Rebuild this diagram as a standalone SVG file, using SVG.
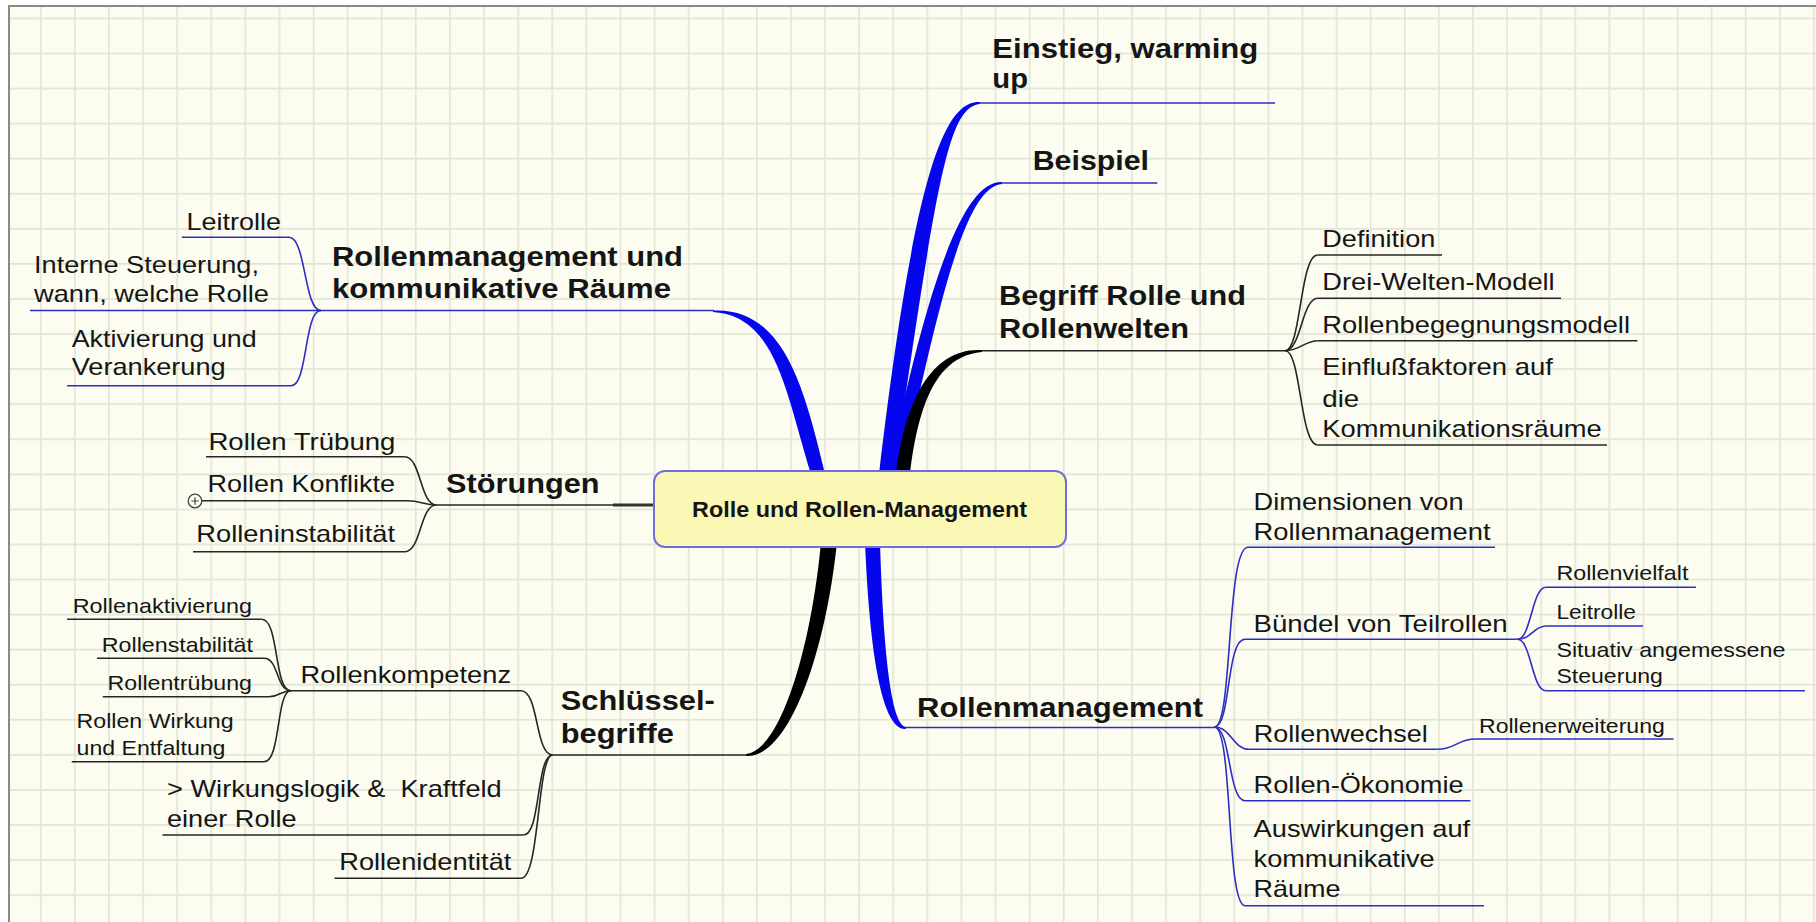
<svg xmlns="http://www.w3.org/2000/svg" width="1816" height="922" viewBox="0 0 1816 922">
<defs>
<pattern id="grid" patternUnits="userSpaceOnUse" x="39.9" y="17.5" width="34.1" height="35.07">
<path d="M0.8,0 V35.07 M0,0.8 H34.1" stroke="#e1e5d5" stroke-width="1.6" fill="none"/>
</pattern>
<style>
.t{font-family:"Liberation Sans",Arial,sans-serif;fill:#151515}
.r{font-size:24px}
.b{font-size:27px;font-weight:bold}
.s{font-size:21px}
.c{font-size:21.5px;font-weight:bold}
.lb{fill:none;stroke:#2d2dc4;stroke-width:1.6}
.lk{fill:none;stroke:#262626;stroke-width:1.6}
.fb{fill:#0606ee}
.fk{fill:#000}
</style>
</defs>
<rect x="0" y="0" width="1816" height="922" fill="#ffffff"/>
<rect x="9" y="6" width="1820" height="930" fill="#fcfdf0" stroke="#8a8a86" stroke-width="2"/>
<rect x="10" y="7" width="1810" height="920" fill="url(#grid)"/>

<g id="connectors">
<!-- thick main branches -->
<path class="fb" d="M713,310.5 C783,307 804,386 825,474 L811,474 C786,394 777,316 713,312 Z"/>
<path class="fb" d="M980,102 C943,100 914,180 879,474 L894,474 C937,180 948,107 980,104 Z"/>
<path class="fb" d="M1002,182 C964,180 928,280 888,474 L902,474 C943,280 968,187 1002,184 Z"/>
<path class="fk" d="M982,350 C932,347 905,400 896,474 L910,474 C919,400 938,356 982,352 Z"/>
<path class="fk" d="M746,754 C780,751 811,650 821,542 L837,542 C826,650 790,758 746,756 Z"/>
<path class="fb" d="M906,729 C880,731 869,640 865,542 L880,542 C883,640 890,725 906,727 Z"/>
<line x1="613" y1="505" x2="656" y2="505" stroke="#333" stroke-width="3"/>
<!-- left top cluster -->
<path class="lb" d="M289,237.3 C306,237.3 304,310.5 320.8,310.5"/>
<path class="lb" d="M291,385.7 C308,385.7 304,310.5 320.8,310.5"/>
<!-- Störungen cluster -->
<path class="lk" d="M404.7,456.7 C421,456.7 420,505 436.3,505"/>
<path class="lk" d="M407,500.7 C421,500.7 424,505 436.3,505"/>
<path class="lk" d="M405,551.7 C421,551.7 420,505 436.3,505"/>
<!-- Rollenkompetenz cluster -->
<path class="lk" d="M261.8,619.3 C279,619.3 274,690.7 290.8,690.7"/>
<path class="lk" d="M264,658.3 C279,658.3 276,690.7 290.8,690.7"/>
<path class="lk" d="M269,696.7 C280,696.7 281,690.7 290.8,690.7"/>
<path class="lk" d="M264,761.7 C281,761.7 276,690.7 290.8,690.7"/>
<!-- Schlüsselbegriffe cluster -->
<path class="lk" d="M521,690.7 C539,690.7 535,755 552.6,755"/>
<path class="lk" d="M523.5,835 C541,835 536,755 552.6,755"/>
<path class="lk" d="M521,878.3 C540,878.3 537,755 552.6,755"/>
<!-- Begriff cluster -->
<path class="lk" d="M1285.3,350.7 C1301,350.7 1300,255 1317.6,255"/>
<path class="lk" d="M1285.3,350.7 C1301,350.7 1302,298.3 1317.6,298.3"/>
<path class="lk" d="M1285.3,350.7 C1300,350.7 1305,340.7 1317.6,340.7"/>
<path class="lk" d="M1285.3,350.7 C1301,350.7 1300,445 1317.6,445"/>
<!-- Rollenmanagement cluster -->
<path class="lb" d="M1214.5,727 C1233,727 1226,547.3 1248,547.3"/>
<path class="lb" d="M1214.5,727 C1231,727 1226,639.3 1245,639.3"/>
<path class="lb" d="M1214.5,727 C1231,727 1233,749.3 1249,749.3"/>
<path class="lb" d="M1214.5,727 C1231,727 1228,800.7 1245,800.7"/>
<path class="lb" d="M1214.5,727 C1233,727 1226,905.7 1245,905.7"/>
<path class="lb" d="M1517.6,639.3 C1531,639.3 1532,587.3 1545.8,587.3"/>
<path class="lb" d="M1517.6,639.3 C1531,639.3 1534,626 1545.8,626"/>
<path class="lb" d="M1517.6,639.3 C1531,639.3 1532,690.7 1545.8,690.7"/>
<path class="lb" d="M1437.7,749.3 C1455,749.3 1458,739 1475,739"/>
</g>

<g id="central">
<rect x="654" y="471" width="412" height="76" rx="11" fill="#fbf8b6" stroke="#6f6fdc" stroke-width="2"/>
<text class="t c" x="692" y="517" textLength="335" lengthAdjust="spacingAndGlyphs">Rolle und Rollen-Management</text>
</g>

<g id="n-rollenmanagement-raeume">
<text class="t b" x="332" y="266" textLength="351" lengthAdjust="spacingAndGlyphs">Rollenmanagement und</text>
<text class="t b" x="332" y="298" textLength="339" lengthAdjust="spacingAndGlyphs">kommunikative Räume</text>
<line class="lb" x1="30" y1="310.5" x2="714" y2="310.5"/>
</g>
<g id="n-leitrolle-l">
<text class="t r" x="186.6" y="230" textLength="94.5" lengthAdjust="spacingAndGlyphs">Leitrolle</text>
<line class="lb" x1="181.8" y1="237.3" x2="289" y2="237.3"/>
</g>
<g id="n-interne">
<text class="t r" x="34" y="273" textLength="225" lengthAdjust="spacingAndGlyphs">Interne Steuerung,</text>
<text class="t r" x="34" y="302" textLength="235" lengthAdjust="spacingAndGlyphs">wann, welche Rolle</text>
</g>
<g id="n-aktivierung">
<text class="t r" x="71.7" y="347" textLength="185" lengthAdjust="spacingAndGlyphs">Aktivierung und</text>
<text class="t r" x="71.7" y="375" textLength="154" lengthAdjust="spacingAndGlyphs">Verankerung</text>
<line class="lb" x1="67" y1="385.7" x2="291" y2="385.7"/>
</g>

<g id="n-stoerungen">
<text class="t b" x="446" y="492.7" textLength="153.6" lengthAdjust="spacingAndGlyphs">Störungen</text>
<line class="lk" x1="436.3" y1="505" x2="614" y2="505"/>
</g>
<g id="n-truebung">
<text class="t r" x="208.4" y="450" textLength="187" lengthAdjust="spacingAndGlyphs">Rollen Trübung</text>
<line class="lk" x1="206" y1="456.7" x2="404.7" y2="456.7"/>
</g>
<g id="n-konflikte">
<text class="t r" x="207.5" y="491.7" textLength="187.5" lengthAdjust="spacingAndGlyphs">Rollen Konflikte</text>
<line class="lk" x1="201.5" y1="500.7" x2="407" y2="500.7"/>
<circle cx="195" cy="501" r="6.8" fill="#fcfdf0" stroke="#444" stroke-width="1.3"/>
<path d="M191.3,501 H198.7 M195,497.3 V504.7" stroke="#444" stroke-width="1.2"/>
</g>
<g id="n-instabilitaet">
<text class="t r" x="196.3" y="541.7" textLength="198.7" lengthAdjust="spacingAndGlyphs">Rolleninstabilität</text>
<line class="lk" x1="193" y1="551.7" x2="405" y2="551.7"/>
</g>

<g id="n-schluessel">
<text class="t b" x="560.8" y="710" textLength="154" lengthAdjust="spacingAndGlyphs">Schlüssel-</text>
<text class="t b" x="560.8" y="743.3" textLength="113" lengthAdjust="spacingAndGlyphs">begriffe</text>
<line class="lk" x1="552.6" y1="755" x2="747" y2="755"/>
</g>
<g id="n-kompetenz">
<text class="t r" x="300.5" y="683.3" textLength="210.5" lengthAdjust="spacingAndGlyphs">Rollenkompetenz</text>
<line class="lk" x1="290.8" y1="690.7" x2="521" y2="690.7"/>
</g>
<g id="n-aktivierung2">
<text class="t s" x="72.7" y="612.7" textLength="179.3" lengthAdjust="spacingAndGlyphs">Rollenaktivierung</text>
<line class="lk" x1="67" y1="619.3" x2="261.8" y2="619.3"/>
</g>
<g id="n-stabilitaet">
<text class="t s" x="101.8" y="651.7" textLength="151.2" lengthAdjust="spacingAndGlyphs">Rollenstabilität</text>
<line class="lk" x1="97" y1="658.3" x2="264" y2="658.3"/>
</g>
<g id="n-truebung2">
<text class="t s" x="107.6" y="690" textLength="144.4" lengthAdjust="spacingAndGlyphs">Rollentrübung</text>
<line class="lk" x1="102.8" y1="696.7" x2="269" y2="696.7"/>
</g>
<g id="n-wirkung">
<text class="t s" x="76.6" y="728.3" textLength="157" lengthAdjust="spacingAndGlyphs">Rollen Wirkung</text>
<text class="t s" x="76.6" y="755" textLength="148.8" lengthAdjust="spacingAndGlyphs">und Entfaltung</text>
<line class="lk" x1="71.7" y1="761.7" x2="264" y2="761.7"/>
</g>
<g id="n-wirkungslogik">
<text class="t r" x="167" y="796.7" textLength="334.7" lengthAdjust="spacingAndGlyphs" style="white-space:pre">&gt; Wirkungslogik &amp;  Kraftfeld</text>
<text class="t r" x="167" y="826.7" textLength="129.7" lengthAdjust="spacingAndGlyphs">einer Rolle</text>
<line class="lk" x1="162.4" y1="835" x2="523.5" y2="835"/>
</g>
<g id="n-identitaet">
<text class="t r" x="339.3" y="870" textLength="172" lengthAdjust="spacingAndGlyphs">Rollenidentität</text>
<line class="lk" x1="334.5" y1="878.3" x2="521" y2="878.3"/>
</g>

<g id="n-einstieg">
<text class="t b" x="992.3" y="58.3" textLength="266" lengthAdjust="spacingAndGlyphs">Einstieg, warming</text>
<text class="t b" x="992.3" y="88.3" textLength="35.7" lengthAdjust="spacingAndGlyphs">up</text>
<line class="lb" x1="979" y1="103" x2="1275" y2="103"/>
</g>
<g id="n-beispiel">
<text class="t b" x="1032.7" y="170" textLength="116.3" lengthAdjust="spacingAndGlyphs">Beispiel</text>
<line class="lb" x1="1001" y1="183" x2="1157.3" y2="183"/>
</g>
<g id="n-begriff">
<text class="t b" x="999" y="305" textLength="247" lengthAdjust="spacingAndGlyphs">Begriff Rolle und</text>
<text class="t b" x="999" y="338.3" textLength="190" lengthAdjust="spacingAndGlyphs">Rollenwelten</text>
<line class="lk" x1="981" y1="350.7" x2="1285.3" y2="350.7"/>
</g>
<g id="n-definition">
<text class="t r" x="1322.3" y="246.7" textLength="113" lengthAdjust="spacingAndGlyphs">Definition</text>
<line class="lk" x1="1317.6" y1="255" x2="1442" y2="255"/>
</g>
<g id="n-dreiwelten">
<text class="t r" x="1322.3" y="290" textLength="232.3" lengthAdjust="spacingAndGlyphs">Drei-Welten-Modell</text>
<line class="lk" x1="1317.6" y1="298.3" x2="1561" y2="298.3"/>
</g>
<g id="n-begegnung">
<text class="t r" x="1322.3" y="333.3" textLength="307.7" lengthAdjust="spacingAndGlyphs">Rollenbegegnungsmodell</text>
<line class="lk" x1="1317.6" y1="340.7" x2="1637.4" y2="340.7"/>
</g>
<g id="n-einfluss">
<text class="t r" x="1322.3" y="375" textLength="230.7" lengthAdjust="spacingAndGlyphs">Einflußfaktoren auf</text>
<text class="t r" x="1322.3" y="406.7" textLength="37" lengthAdjust="spacingAndGlyphs">die</text>
<text class="t r" x="1322.3" y="436.7" textLength="279.5" lengthAdjust="spacingAndGlyphs">Kommunikationsräume</text>
<line class="lk" x1="1317.6" y1="445" x2="1607" y2="445"/>
</g>

<g id="n-rollenmanagement">
<text class="t b" x="917" y="716.7" textLength="286" lengthAdjust="spacingAndGlyphs">Rollenmanagement</text>
<line class="lb" x1="905" y1="727.5" x2="1214.5" y2="727.5"/>
</g>
<g id="n-dimensionen">
<text class="t r" x="1253.6" y="510" textLength="210" lengthAdjust="spacingAndGlyphs">Dimensionen von</text>
<text class="t r" x="1253.6" y="540" textLength="237" lengthAdjust="spacingAndGlyphs">Rollenmanagement</text>
<line class="lb" x1="1248" y1="547.3" x2="1495" y2="547.3"/>
</g>
<g id="n-buendel">
<text class="t r" x="1253.6" y="631.7" textLength="254" lengthAdjust="spacingAndGlyphs">Bündel von Teilrollen</text>
<line class="lb" x1="1245" y1="639.3" x2="1517.6" y2="639.3"/>
</g>
<g id="n-vielfalt">
<text class="t s" x="1556.4" y="580" textLength="132" lengthAdjust="spacingAndGlyphs">Rollenvielfalt</text>
<line class="lb" x1="1545.8" y1="587.3" x2="1695.9" y2="587.3"/>
</g>
<g id="n-leitrolle-r">
<text class="t s" x="1556.4" y="619.3" textLength="79.6" lengthAdjust="spacingAndGlyphs">Leitrolle</text>
<line class="lb" x1="1545.8" y1="626" x2="1643" y2="626"/>
</g>
<g id="n-situativ">
<text class="t s" x="1556.4" y="657.3" textLength="229" lengthAdjust="spacingAndGlyphs">Situativ angemessene</text>
<text class="t s" x="1556.4" y="683.3" textLength="106.5" lengthAdjust="spacingAndGlyphs">Steuerung</text>
<line class="lb" x1="1545.8" y1="690.7" x2="1805" y2="690.7"/>
</g>
<g id="n-wechsel">
<text class="t r" x="1253.8" y="741.7" textLength="174" lengthAdjust="spacingAndGlyphs">Rollenwechsel</text>
<line class="lb" x1="1249" y1="749.3" x2="1437.7" y2="749.3"/>
</g>
<g id="n-erweiterung">
<text class="t s" x="1479" y="732.7" textLength="185.8" lengthAdjust="spacingAndGlyphs">Rollenerweiterung</text>
<line class="lb" x1="1475" y1="739" x2="1673.5" y2="739"/>
</g>
<g id="n-oekonomie">
<text class="t r" x="1253.6" y="793.3" textLength="210" lengthAdjust="spacingAndGlyphs">Rollen-Ökonomie</text>
<line class="lb" x1="1245" y1="800.7" x2="1470.4" y2="800.7"/>
</g>
<g id="n-auswirkungen">
<text class="t r" x="1253.6" y="836.7" textLength="216.5" lengthAdjust="spacingAndGlyphs">Auswirkungen auf</text>
<text class="t r" x="1253.6" y="866.7" textLength="181" lengthAdjust="spacingAndGlyphs">kommunikative</text>
<text class="t r" x="1253.6" y="896.7" textLength="87" lengthAdjust="spacingAndGlyphs">Räume</text>
<line class="lb" x1="1245" y1="905.7" x2="1484" y2="905.7"/>
</g>
</svg>
